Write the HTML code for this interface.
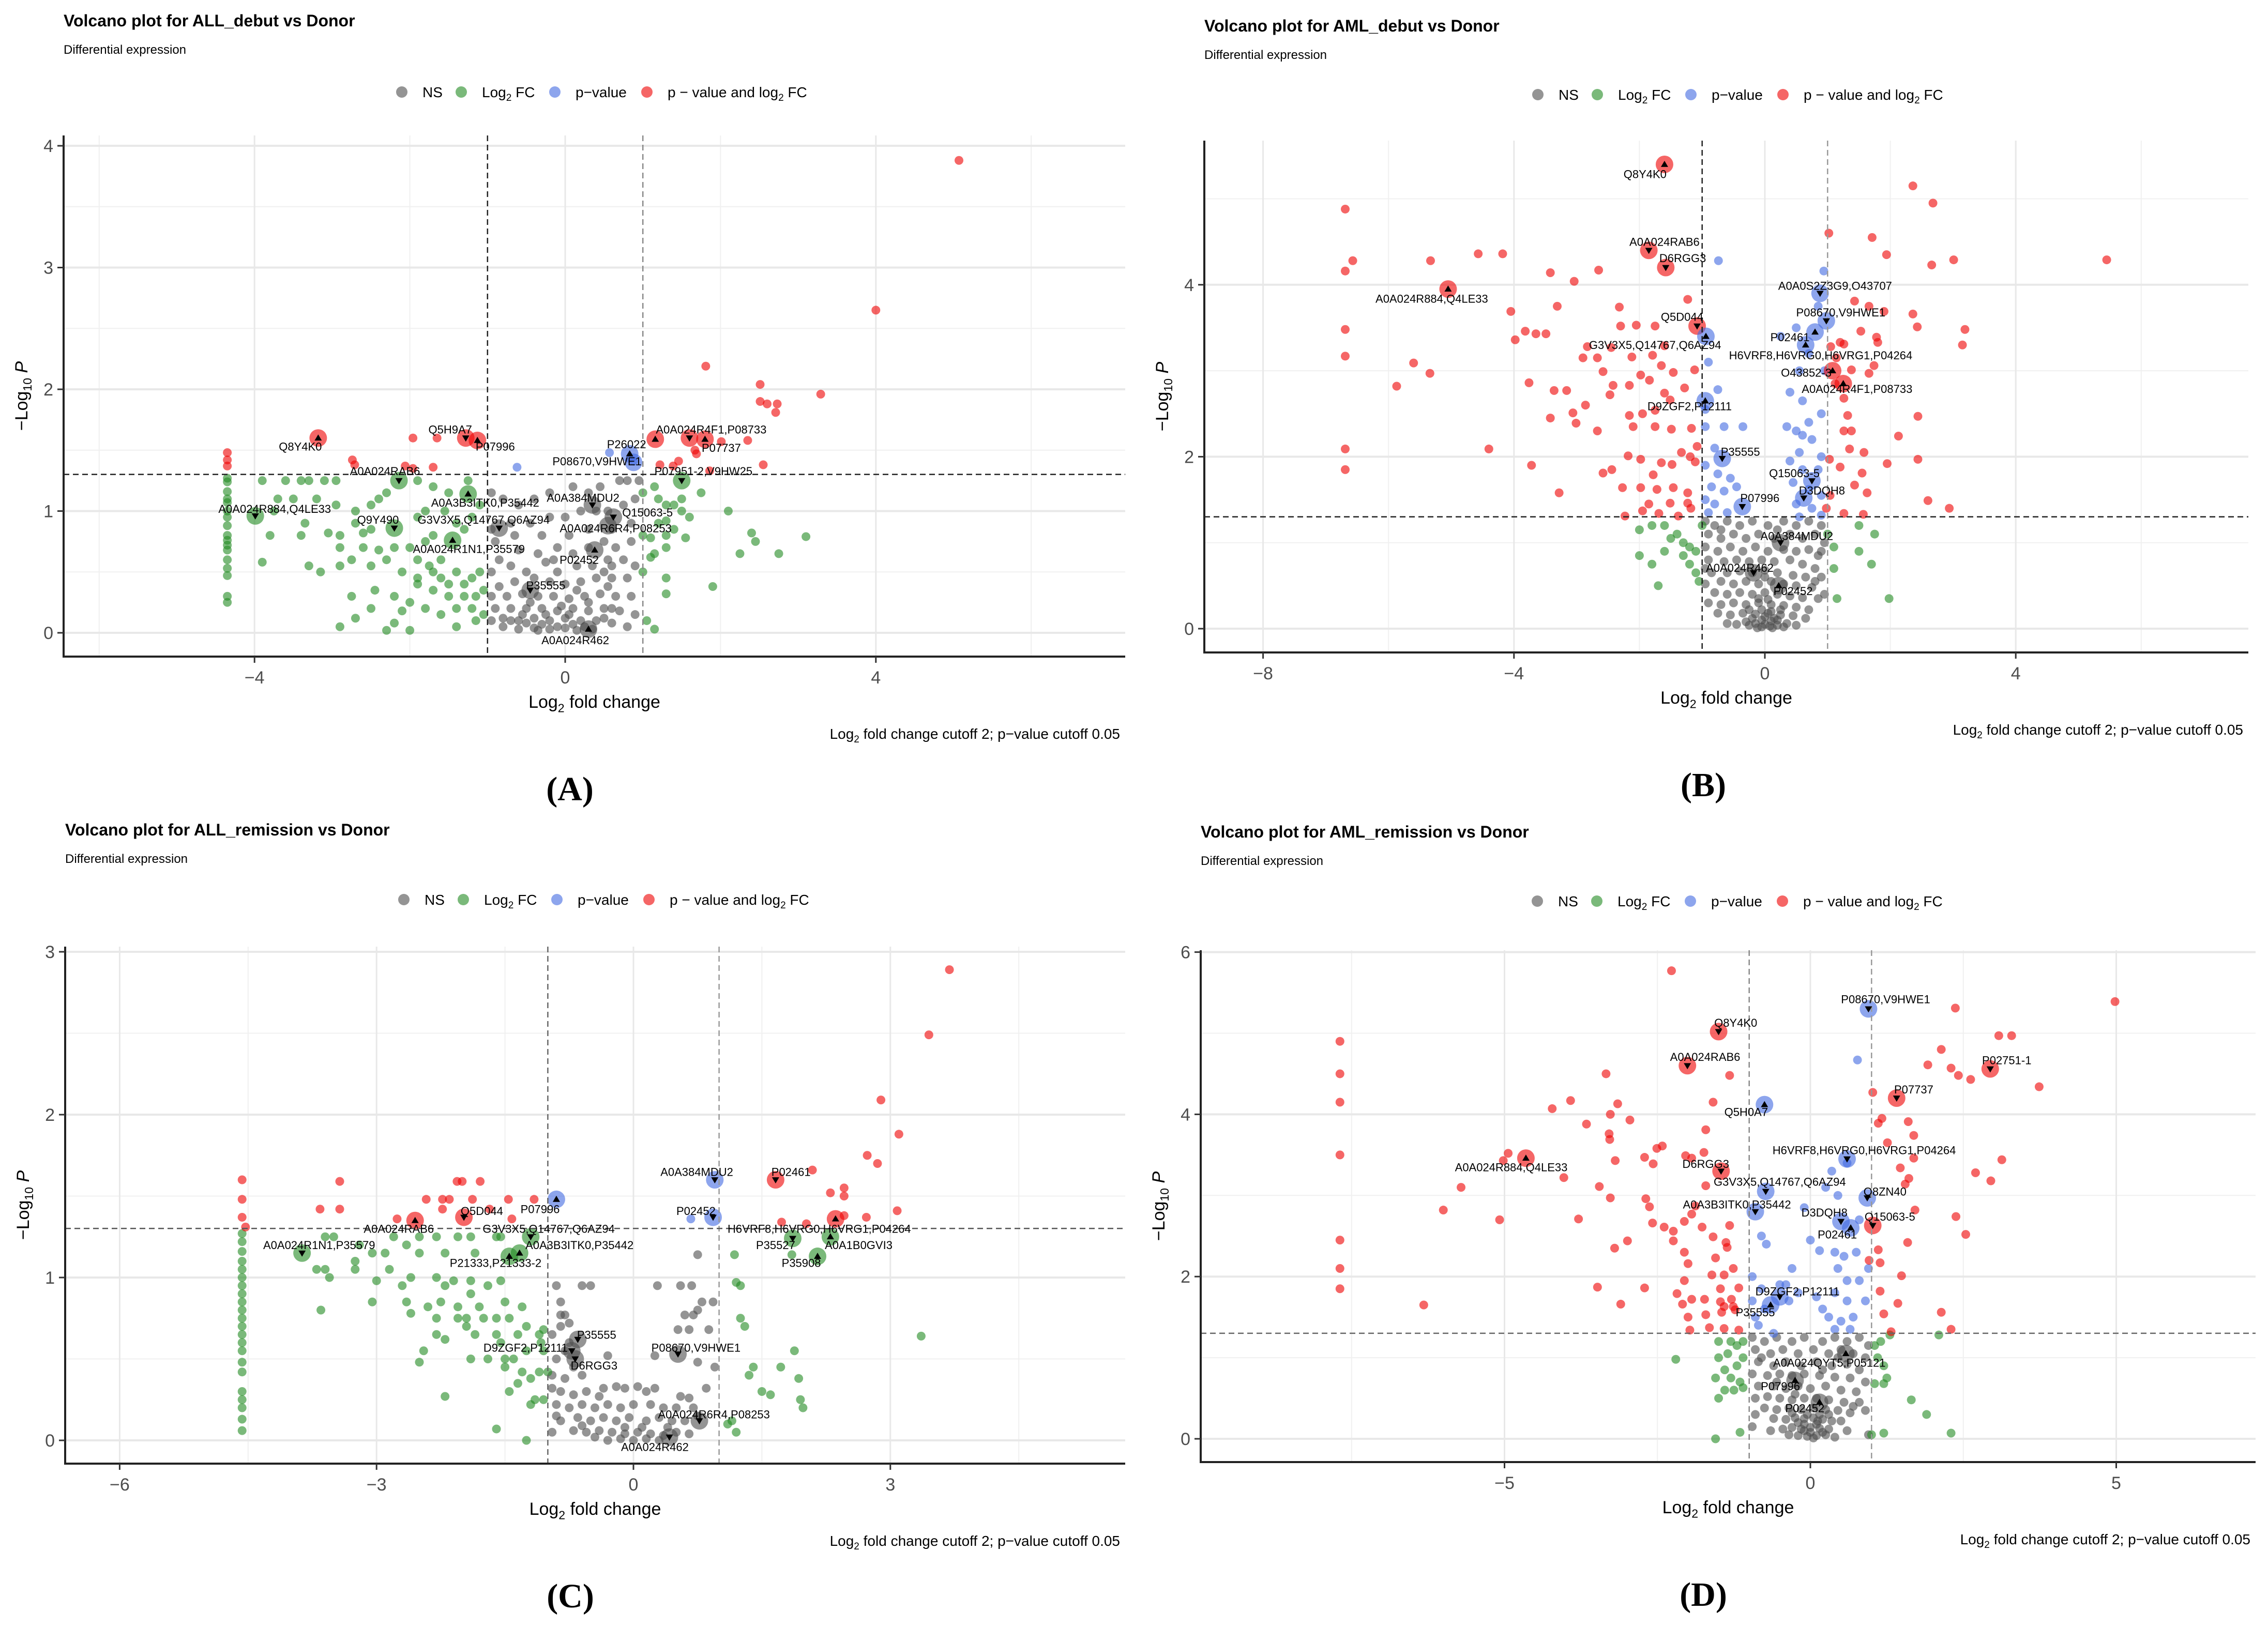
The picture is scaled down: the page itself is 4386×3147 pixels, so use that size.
<!DOCTYPE html>
<html><head><meta charset="utf-8"><style>
html,body{margin:0;padding:0;background:#fff;}
svg{display:block;font-family:"Liberation Sans",Arial,sans-serif;}
</style></head>
<body>
<svg id="fig" xmlns="http://www.w3.org/2000/svg" width="4386" height="3147" viewBox="0 0 4386 3147">
<rect width="4386" height="3147" fill="#fff"/>
</svg>
<script>
// ---------- Panel A: ALL_debut vs Donor ----------
const A_ns=[[-0.95,1.15],[-0.8,1.1],[-0.6,1.05],[-0.4,1.1],[-0.2,1.15],[0.1,1.2],[0.3,1.15],[0.45,1.2],[0.7,1.25],[0.8,1.25],[0.95,1.25],[0.9,1.1],[0.75,1.05],[0.55,1.0],[0.4,1.0],[0.2,1.0],[0.0,0.95],[-0.2,0.95],[-0.45,0.9],[-0.7,0.9],[-0.95,0.85],[-0.9,0.75],[-0.65,0.8],[-0.3,0.8],[0.05,0.8],[0.3,0.85],[0.6,0.85],[0.85,0.9],[0.85,0.75],[0.65,0.7],[0.5,0.75],[0.3,0.7],[0.1,0.65],[-0.1,0.7],[-0.35,0.65],[-0.6,0.68],[-0.85,0.6],[-0.95,0.5],[-0.7,0.55],[-0.5,0.5],[-0.25,0.58],[-0.1,0.5],[0.15,0.55],[0.35,0.55],[0.55,0.6],[0.75,0.6],[0.9,0.55],[0.8,0.45],[0.6,0.45],[0.4,0.45],[0.2,0.42],[0.0,0.4],[-0.2,0.42],[-0.4,0.45],[-0.65,0.42],[-0.85,0.38],[-0.95,0.3],[-0.75,0.3],[-0.55,0.32],[-0.35,0.3],[-0.15,0.3],[0.05,0.28],[0.25,0.3],[0.45,0.32],[0.65,0.3],[0.85,0.3],[0.9,0.15],[0.7,0.18],[0.5,0.2],[0.3,0.18],[0.1,0.2],[-0.1,0.18],[-0.3,0.2],[-0.5,0.2],[-0.7,0.2],[-0.9,0.2],[-0.95,0.1],[-0.8,0.12],[-0.6,0.1],[-0.4,0.12],[-0.2,0.1],[0.0,0.12],[0.2,0.1],[0.4,0.1],[0.6,0.08],[0.8,0.05],[-0.8,0.05],[-0.6,0.03],[-0.4,0.04],[-0.2,0.03],[0.0,0.04],[0.15,0.02],[0.35,0.03],[-0.3,0.07],[-0.5,0.08],[0.1,0.07],[-0.05,0.22],[0.15,0.35],[-0.45,0.25],[0.5,0.5],[0.6,0.55],[0.55,0.38],[0.5,0.12],[-0.15,0.6],[-0.25,0.15],[-0.55,0.15],[-0.7,0.1],[0.25,0.05],[0.6,0.2],[-0.1,0.05],[0.05,0.15],[-0.35,0.02],[0.3,0.25]];
const A_fc=[[-4.35,1.27],[-4.35,1.24],[-4.35,1.16],[-4.35,1.1],[-4.35,1.07],[-4.35,1.0],[-4.35,0.95],[-4.35,0.88],[-4.35,0.8],[-4.35,0.76],[-4.35,0.72],[-4.35,0.68],[-4.35,0.6],[-4.35,0.53],[-4.35,0.47],[-4.35,0.3],[-4.35,0.25],[-3.9,1.25],[-3.6,1.25],[-3.4,1.25],[-3.3,1.25],[-3.1,1.25],[-2.95,1.25],[-2.95,1.05],[-3.2,1.1],[-3.5,1.1],[-3.7,1.1],[-3.75,1.0],[-3.35,0.9],[-3.8,0.8],[-3.4,0.8],[-3.05,0.82],[-2.9,0.8],[-2.7,0.9],[-2.7,1.0],[-2.5,1.05],[-2.4,1.1],[-2.3,1.15],[-2.5,0.85],[-2.6,0.82],[-2.9,0.7],[-2.6,0.7],[-2.4,0.68],[-2.2,0.7],[-2.0,0.7],[-1.8,0.75],[-1.7,0.8],[-1.9,0.95],[-1.8,1.0],[-1.55,1.0],[-1.4,0.9],[-1.3,0.85],[-1.2,0.95],[-1.1,1.05],[-1.5,1.15],[-1.7,1.2],[-1.9,1.25],[-1.25,1.25],[-3.9,0.58],[-3.3,0.55],[-3.15,0.5],[-2.9,0.55],[-2.75,0.6],[-2.5,0.55],[-2.3,0.6],[-2.1,0.5],[-1.9,0.45],[-1.7,0.5],[-1.6,0.45],[-1.5,0.4],[-1.4,0.5],[-1.3,0.4],[-1.2,0.45],[-1.1,0.5],[-1.05,0.35],[-1.15,0.3],[-1.3,0.3],[-1.5,0.3],[-1.7,0.35],[-1.9,0.4],[-2.0,0.25],[-2.2,0.3],[-2.45,0.35],[-2.75,0.3],[-2.1,0.18],[-1.8,0.2],[-1.6,0.15],[-1.4,0.2],[-1.2,0.2],[-1.05,0.15],[-2.7,0.12],[-2.9,0.05],[-2.5,0.2],[-2.2,0.08],[-2.0,0.02],[-2.3,0.02],[-1.4,0.05],[-1.15,0.1],[-1.6,0.6],[-1.9,0.6],[-1.75,0.55],[1.15,1.2],[1.2,1.1],[1.3,1.05],[1.4,1.05],[1.5,1.1],[1.5,1.0],[1.75,1.15],[1.6,0.95],[1.3,0.92],[1.2,0.9],[1.4,0.85],[1.0,0.8],[1.1,0.78],[1.3,0.8],[1.55,0.78],[2.1,1.0],[2.4,0.82],[2.45,0.75],[3.1,0.79],[2.25,0.65],[2.75,0.65],[1.15,0.65],[1.3,0.7],[1.1,0.62],[1.0,0.5],[1.3,0.45],[1.9,0.38],[1.3,0.32],[1.05,0.1],[1.15,0.03],[1.0,1.15]];
const A_pv=[[0.57,1.48],[0.88,1.41],[-0.62,1.36]];
const A_both=[[5.07,3.88],[4.0,2.65],[1.81,2.19],[2.51,2.04],[3.29,1.96],[2.51,1.9],[2.6,1.88],[2.73,1.88],[2.71,1.81],[2.01,1.57],[2.35,1.58],[1.67,1.5],[1.69,1.47],[2.55,1.38],[1.22,1.38],[1.46,1.41],[1.86,1.33],[1.39,1.37],[-1.96,1.6],[-1.65,1.6],[-2.74,1.42],[-2.71,1.38],[-1.7,1.36],[-2.06,1.37],[-1.96,1.35],[-4.35,1.48],[-4.35,1.37],[-4.35,1.42]];
const A_hl=[["Q8Y4K0",-3.18,1.6,"both","u",-3.41,1.53],["Q5H9A7",-1.28,1.6,"both","d",-1.48,1.67],["P07996",-1.13,1.58,"both","u",-0.9,1.53],["A0A024RAB6",-2.14,1.25,"fc","d",-2.32,1.33],["A0A024R4F1,P08733",1.16,1.59,"both","u",1.88,1.67],["P07737",1.6,1.6,"both","d",2.01,1.52],["",1.8,1.59,"both","u",0,0],["P26022",0.83,1.47,"pv","u",0.79,1.55],["P08670,V9HWE1",0.88,1.4,"pv","",0.41,1.41],["P07951-2,V9HW25",1.5,1.25,"fc","d",1.78,1.33],["A0A384MDU2",0.35,1.05,"ns","d",0.23,1.11],["A0A3B3ITK0,P35442",-1.25,1.14,"fc","u",-1.03,1.07],["A0A024R884,Q4LE33",-3.99,0.96,"fc","d",-3.74,1.02],["Q15063-5",0.62,0.95,"ns","d",1.06,0.99],["Q9Y490",-2.2,0.86,"fc","d",-2.41,0.93],["G3V3X5,Q14767,Q6AZ94",-0.85,0.86,"ns","d",-1.05,0.93],["A0A024R6R4,P08253",0.55,0.88,"ns","",0.65,0.86],["A0A024R1N1,P35579",-1.45,0.76,"fc","u",-1.24,0.69],["P02452",0.38,0.68,"ns","u",0.18,0.6],["P35555",-0.45,0.35,"ns","d",-0.25,0.39],["A0A024R462",0.3,0.03,"ns","u",0.13,-0.06]];
const A_xticks=[-4,0,4], A_xminor=[-6,-2,2,6], A_yticks=[0,1,2,3,4], A_yminor=[0.5,1.5,2.5,3.5];

// ---------- Panel B: AML_debut vs Donor ----------
const B_ns=[[-0.95,1.25],[-0.8,1.2],[-0.6,1.25],[-0.4,1.2],[-0.2,1.25],[0.05,1.2],[0.3,1.25],[0.5,1.2],[0.7,1.25],[0.9,1.2],[-0.9,1.1],[-0.7,1.05],[-0.5,1.1],[-0.3,1.05],[-0.1,1.1],[0.15,1.05],[0.4,1.1],[0.6,1.05],[0.8,1.1],[0.95,1.0],[-0.95,0.95],[-0.75,0.9],[-0.55,0.95],[-0.35,0.9],[-0.15,0.95],[0.05,0.9],[0.3,0.92],[0.5,0.9],[0.7,0.92],[0.85,0.85],[-0.9,0.8],[-0.65,0.78],[-0.45,0.8],[-0.25,0.78],[-0.05,0.8],[0.15,0.78],[0.4,0.8],[0.6,0.75],[0.8,0.7],[-0.85,0.65],[-0.6,0.65],[-0.4,0.67],[-0.2,0.65],[0.0,0.68],[0.2,0.65],[0.45,0.62],[0.65,0.6],[0.9,0.6],[-0.95,0.52],[-0.7,0.55],[-0.5,0.52],[-0.3,0.55],[-0.1,0.52],[0.1,0.55],[0.3,0.52],[0.5,0.5],[0.75,0.48],[-0.8,0.42],[-0.6,0.4],[-0.4,0.42],[-0.2,0.4],[0.0,0.42],[0.2,0.4],[0.4,0.38],[0.6,0.36],[0.85,0.35],[-0.9,0.3],[-0.7,0.28],[-0.5,0.3],[-0.3,0.28],[-0.1,0.3],[0.1,0.28],[0.3,0.27],[0.5,0.25],[0.7,0.22],[-0.75,0.18],[-0.55,0.16],[-0.35,0.18],[-0.15,0.17],[0.05,0.18],[0.25,0.16],[0.45,0.15],[0.65,0.12],[-0.6,0.06],[-0.45,0.05],[-0.3,0.08],[-0.15,0.06],[0.0,0.05],[0.1,0.09],[0.2,0.04],[0.35,0.06],[0.5,0.04],[-0.05,0.02],[0.12,0.01],[-0.2,0.12],[0.0,0.14],[0.15,0.12],[-0.05,0.22],[0.1,0.2],[-0.25,0.22],[0.25,0.22],[-0.1,0.35],[0.05,0.34],[0.8,0.55],[0.95,0.4],[-0.95,0.7],[0.9,0.9],[-0.7,1.15],[0.2,1.15],[0.0,0.6],[-0.05,0.1],[0.08,0.03],[-0.12,0.01],[0.2,0.1],[0.3,0.02],[-0.25,0.04]];
const B_fc=[[-2.0,1.15],[-1.8,1.2],[-1.6,1.2],[-1.4,1.1],[-1.3,1.0],[-1.2,0.95],[-1.1,0.9],[-1.2,0.75],[-1.1,0.65],[-1.6,0.9],[-1.8,0.75],[-2.0,0.85],[-1.7,0.5],[-1.3,0.85],[-1.05,0.55],[1.1,0.95],[1.1,0.7],[1.15,0.35],[1.5,0.9],[1.5,1.2],[1.75,1.1],[1.7,0.75],[1.98,0.35],[1.0,1.1],[-1.0,1.2],[-1.5,1.05]];
const B_pv=[[-0.74,4.28],[0.94,4.16],[-0.9,3.1],[-0.75,2.78],[0.55,3.0],[0.6,2.65],[0.9,2.5],[0.7,2.4],[0.5,2.3],[0.35,2.35],[0.6,2.25],[0.75,2.2],[0.55,2.05],[0.9,2.0],[0.4,1.95],[0.6,1.85],[0.85,1.85],[0.45,1.7],[0.7,1.62],[0.9,1.55],[0.5,1.45],[0.75,1.4],[0.9,1.32],[0.55,1.3],[-0.95,2.55],[-0.95,2.35],[-0.65,2.35],[-0.35,2.35],[-0.8,2.1],[-0.95,1.9],[-0.75,1.8],[-0.55,1.75],[-0.85,1.65],[-0.65,1.6],[-0.45,1.65],[-0.95,1.5],[-0.8,1.45],[-0.6,1.35],[-0.9,1.35],[0.25,3.4],[0.5,3.5],[0.85,3.75],[0.7,3.2],[0.95,3.0],[0.4,2.75]];
const B_both=[[-6.69,4.88],[-6.69,4.16],[-6.57,4.28],[-6.69,3.48],[-6.69,3.17],[-6.69,2.09],[-6.69,1.85],[-5.33,4.28],[-4.57,4.36],[-4.18,4.36],[-3.42,4.14],[-3.04,4.04],[-2.65,4.17],[-2.32,3.74],[-3.31,3.75],[-4.05,3.69],[-3.98,3.36],[-3.82,3.46],[-3.65,3.43],[-3.49,3.43],[-5.6,3.09],[-5.34,2.97],[-5.87,2.82],[-3.76,2.86],[-3.36,2.77],[-3.16,2.77],[-3.42,2.45],[-3.06,2.51],[-3.01,2.39],[-2.86,2.6],[-4.4,2.09],[-3.72,1.9],[-3.28,1.58],[-2.9,3.15],[-2.83,3.28],[-2.67,3.15],[-2.45,3.27],[-2.3,3.52],[-2.05,3.53],[-1.75,3.52],[-2.12,3.16],[-1.79,3.18],[-2.58,2.99],[-2.42,2.83],[-2.16,2.83],[-1.98,2.95],[-1.84,2.89],[-1.65,3.06],[-1.46,2.98],[-1.6,2.74],[-1.28,2.8],[-1.12,3.01],[-1.23,3.83],[-1.6,3.29],[-2.47,2.72],[-2.67,2.3],[-2.16,2.48],[-2.1,2.35],[-1.95,2.5],[-1.75,2.35],[-1.49,2.32],[-1.17,2.33],[-1.75,2.54],[-1.51,2.66],[-2.18,2.01],[-1.98,1.97],[-1.78,1.79],[-1.65,1.93],[-1.48,1.91],[-1.33,2.05],[-1.19,2.0],[-1.08,2.12],[-2.58,1.81],[-2.44,1.85],[-2.27,1.64],[-1.98,1.64],[-1.72,1.62],[-1.46,1.64],[-1.23,1.58],[-1.85,1.45],[-1.51,1.46],[-1.23,1.46],[-2.23,1.31],[-1.95,1.37],[-1.69,1.34],[-1.38,1.31],[-1.18,1.4],[-1.11,1.94],[1.02,4.6],[1.71,4.55],[1.94,4.35],[2.36,5.15],[2.68,4.95],[3.01,4.29],[2.66,4.23],[5.45,4.29],[1.43,3.81],[1.66,3.75],[1.9,3.69],[2.36,3.66],[2.43,3.51],[3.19,3.48],[3.15,3.3],[1.53,3.46],[1.78,3.39],[1.8,3.33],[1.05,3.28],[1.26,3.31],[1.14,3.15],[1.38,3.01],[1.66,2.97],[1.74,3.06],[1.26,2.68],[1.32,2.48],[1.26,2.3],[1.38,2.3],[2.44,2.47],[2.13,2.24],[2.44,1.97],[1.95,1.92],[1.58,2.05],[1.35,2.09],[1.03,1.97],[1.2,1.88],[1.55,1.81],[1.43,1.67],[1.63,1.58],[1.26,1.34],[1.57,1.33],[2.6,1.49],[2.94,1.4],[1.04,1.55],[0.98,1.4],[1.12,2.85],[1.2,3.33]];
const B_hl=[["Q8Y4K0",-1.6,5.4,"both","u",-1.91,5.29],["A0A024RAB6",-1.85,4.4,"both","d",-1.6,4.5],["D6RGG3",-1.58,4.2,"both","d",-1.31,4.31],["A0A024R884,Q4LE33",-5.05,3.95,"both","u",-5.31,3.84],["Q5D044",-1.08,3.52,"both","d",-1.32,3.63],["G3V3X5,Q14767,Q6AZ94",-0.94,3.4,"pv","u",-1.75,3.3],["A0A0S2Z3G9,O43707",0.88,3.9,"pv","d",1.12,3.99],["P08670,V9HWE1",0.98,3.58,"pv","d",1.21,3.68],["P02461",0.8,3.45,"pv","u",0.4,3.39],["H6VRF8,H6VRG0,H6VRG1,P04264",0.65,3.3,"pv","u",0.89,3.18],["O43852-3",1.08,3.0,"both","u",0.66,2.98],["A0A024R4F1,P08733",1.25,2.85,"both","u",1.47,2.79],["D9ZGF2,P12111",-0.95,2.65,"pv","u",-1.2,2.59],["P35555",-0.68,1.98,"pv","d",-0.39,2.06],["Q15063-5",0.75,1.72,"pv","d",0.47,1.81],["D3DQH8",0.62,1.52,"pv","d",0.91,1.61],["P07996",-0.36,1.42,"pv","d",-0.08,1.52],["A0A384MDU2",0.25,1.0,"ns","d",0.51,1.08],["A0A024R462",-0.18,0.65,"ns","d",-0.4,0.71],["P02452",0.22,0.5,"ns","u",0.45,0.44]];
const B_xticks=[-8,-4,0,4], B_xminor=[-6,-2,2,6], B_yticks=[0,2,4], B_yminor=[1,3,5];

// ---------- Panel C: ALL_remission vs Donor ----------
const C_ns=[[-0.9,0.95],[-0.6,0.95],[-0.5,0.95],[0.28,0.95],[0.55,0.95],[0.68,0.95],[0.75,1.14],[0.93,0.85],[0.8,0.85],[-0.85,0.85],[-0.85,0.77],[-0.8,0.77],[0.6,0.77],[0.7,0.77],[0.75,0.8],[0.52,0.68],[0.65,0.68],[0.88,0.68],[-0.95,0.65],[-0.75,0.6],[-0.9,0.5],[-0.7,0.45],[-0.3,0.52],[0.25,0.52],[0.75,0.48],[0.95,0.45],[0.25,0.32],[0.85,0.32],[-0.95,0.4],[-0.8,0.38],[-0.6,0.4],[-0.95,0.32],[-0.85,0.3],[-0.7,0.28],[-0.55,0.3],[-0.35,0.32],[-0.2,0.33],[-0.1,0.32],[0.05,0.33],[0.15,0.3],[-0.9,0.22],[-0.75,0.2],[-0.6,0.22],[-0.45,0.2],[-0.3,0.22],[-0.15,0.2],[0.0,0.22],[0.2,0.22],[0.35,0.2],[0.5,0.2],[0.7,0.2],[0.75,0.15],[0.6,0.12],[0.45,0.12],[0.3,0.14],[0.15,0.12],[-0.05,0.14],[-0.2,0.12],[-0.35,0.14],[-0.5,0.12],[-0.65,0.14],[-0.85,0.12],[-0.95,0.05],[-0.7,0.06],[-0.55,0.05],[-0.4,0.06],[-0.25,0.05],[-0.1,0.04],[0.05,0.05],[0.2,0.04],[0.35,0.03],[0.5,0.05],[0.65,0.04],[-0.3,0.0],[-0.15,0.01],[0.0,0.0],[0.15,0.01],[0.3,0.0],[-0.45,0.02],[-0.6,0.09],[-0.9,0.15],[-0.1,0.08],[0.1,0.08],[0.4,0.08],[0.55,0.27],[0.65,0.26],[-0.4,0.27],[-0.8,0.55],[-0.85,0.7],[-0.75,0.72]];
const C_fc=[[-4.57,1.27],[-4.57,1.22],[-4.57,1.16],[-4.57,1.1],[-4.57,1.05],[-4.57,1.0],[-4.57,0.95],[-4.57,0.9],[-4.57,0.85],[-4.57,0.8],[-4.57,0.75],[-4.57,0.7],[-4.57,0.65],[-4.57,0.6],[-4.57,0.55],[-4.57,0.48],[-4.57,0.42],[-4.57,0.3],[-4.57,0.25],[-4.57,0.2],[-4.57,0.13],[-4.57,0.06],[-3.5,1.25],[-3.6,1.25],[-3.2,1.2],[-2.8,1.25],[-2.65,1.2],[-2.5,1.25],[-2.3,1.25],[-2.05,1.25],[-1.9,1.25],[-1.6,1.25],[-1.55,1.25],[-1.85,1.15],[-2.2,1.15],[-2.5,1.15],[-2.9,1.15],[-3.05,1.15],[-3.25,1.1],[-3.6,1.05],[-3.7,1.05],[-3.55,1.0],[-3.25,1.05],[-2.85,1.05],[-3.0,0.98],[-3.05,0.85],[-2.6,1.0],[-2.3,1.0],[-2.1,0.98],[-1.9,0.98],[-1.7,0.95],[-1.55,0.98],[-1.9,0.9],[-2.2,0.95],[-2.7,0.95],[-2.65,0.85],[-2.4,0.82],[-2.25,0.85],[-2.05,0.82],[-1.8,0.82],[-1.5,0.85],[-1.3,0.82],[-3.65,0.8],[-2.6,0.78],[-2.3,0.75],[-2.05,0.75],[-1.95,0.75],[-1.75,0.75],[-1.6,0.75],[-1.45,0.75],[-1.25,0.7],[-2.3,0.65],[-2.2,0.62],[-1.95,0.7],[-1.85,0.65],[-1.6,0.65],[-1.35,0.65],[-1.1,0.65],[-1.05,0.68],[-2.45,0.55],[-2.5,0.48],[-1.9,0.5],[-1.7,0.5],[-1.5,0.5],[-1.4,0.5],[-1.25,0.55],[-1.05,0.55],[-1.5,0.45],[-1.3,0.42],[-1.1,0.42],[-1.0,0.42],[-1.35,0.35],[-1.2,0.38],[-1.45,0.3],[-1.15,0.25],[-1.05,0.25],[-1.2,0.22],[-2.2,0.27],[-1.6,0.07],[-1.25,0.0],[-1.08,0.6],[-1.55,0.6],[1.18,1.14],[1.2,0.97],[1.25,0.95],[1.25,0.75],[1.3,0.7],[1.85,1.14],[1.4,0.45],[1.35,0.4],[1.5,0.3],[1.6,0.28],[1.72,0.45],[1.88,0.55],[1.93,0.38],[1.95,0.25],[1.98,0.2],[3.36,0.64],[1.1,0.1],[1.2,0.05],[1.15,0.12]];
const C_pv=[[0.67,1.36]];
const C_both=[[-4.57,1.6],[-4.57,1.48],[-4.57,1.37],[-4.53,1.31],[-3.66,1.42],[-3.43,1.59],[-3.43,1.42],[-2.76,1.36],[-2.42,1.48],[-2.23,1.48],[-2.15,1.48],[-2.23,1.42],[-2.06,1.59],[-2.0,1.59],[-1.79,1.59],[-1.88,1.48],[-1.68,1.42],[-1.46,1.48],[-1.42,1.36],[-1.16,1.48],[3.69,2.89],[3.45,2.49],[2.89,2.09],[3.1,1.88],[2.73,1.75],[2.85,1.7],[2.09,1.66],[2.46,1.55],[2.46,1.5],[2.3,1.52],[3.08,1.41],[2.72,1.37],[1.73,1.34],[2.02,1.33],[2.46,1.38]];
const C_hl=[["A0A384MDU2",0.95,1.6,"pv","d",0.74,1.65],["P02461",1.66,1.6,"both","d",1.84,1.65],["P07996",-0.9,1.48,"pv","u",-1.09,1.42],["Q5D044",-1.98,1.37,"both","d",-1.77,1.41],["P02452",0.93,1.37,"pv","d",0.73,1.41],["A0A024RAB6",-2.55,1.35,"both","u",-2.74,1.3],["G3V3X5,Q14767,Q6AZ94",-1.2,1.25,"fc","d",-0.99,1.3],["H6VRF8,H6VRG0,H6VRG1,P04264",2.36,1.36,"both","u",2.17,1.3],["A0A024R1N1,P35579",-3.87,1.15,"fc","d",-3.67,1.2],["A0A3B3ITK0,P35442",-1.33,1.15,"fc","u",-0.63,1.2],["P35527",1.86,1.24,"fc","d",1.66,1.2],["A0A1B0GVI3",2.3,1.25,"fc","u",2.63,1.2],["P21333,P21333-2",-1.45,1.13,"fc","u",-1.61,1.09],["P35908",2.15,1.13,"fc","u",1.96,1.09],["P35555",-0.65,0.62,"ns","d",-0.43,0.65],["D9ZGF2,P12111",-0.72,0.55,"ns","d",-1.26,0.57],["P08670,V9HWE1",0.52,0.53,"ns","d",0.73,0.57],["D6RGG3",-0.68,0.5,"ns","d",-0.46,0.46],["A0A024R6R4,P08253",0.77,0.12,"ns","d",0.94,0.16],["A0A024R462",0.42,0.02,"ns","d",0.25,-0.04]];
const C_xticks=[-6,-3,0,3], C_xminor=[-4.5,-1.5,1.5,4.5], C_yticks=[0,1,2,3], C_yminor=[0.5,1.5,2.5];

// ---------- Panel D: AML_remission vs Donor ----------
const D_ns=[[-0.95,1.25],[-0.75,1.2],[-0.55,1.25],[-0.3,1.2],[-0.1,1.25],[0.2,1.2],[0.4,1.25],[0.6,1.2],[0.8,1.25],[0.95,1.15],[-0.9,1.1],[-0.65,1.05],[-0.45,1.1],[-0.2,1.05],[0.05,1.1],[0.3,1.05],[0.5,1.1],[0.7,1.05],[0.9,1.0],[-0.85,0.95],[-0.6,0.9],[-0.4,0.95],[-0.15,0.9],[0.1,0.95],[0.35,0.9],[0.6,0.92],[0.8,0.85],[-0.95,0.8],[-0.7,0.78],[-0.5,0.8],[-0.3,0.78],[-0.1,0.8],[0.15,0.78],[0.4,0.76],[0.65,0.75],[0.9,0.7],[-0.85,0.65],[-0.6,0.65],[-0.4,0.62],[-0.2,0.65],[0.0,0.62],[0.25,0.65],[0.5,0.6],[0.75,0.58],[-0.9,0.5],[-0.7,0.52],[-0.5,0.5],[-0.3,0.48],[-0.1,0.5],[0.1,0.5],[0.3,0.48],[0.55,0.45],[0.8,0.45],[-0.75,0.38],[-0.55,0.36],[-0.35,0.38],[-0.15,0.36],[0.05,0.38],[0.25,0.36],[0.45,0.35],[0.65,0.32],[-0.6,0.25],[-0.4,0.24],[-0.25,0.26],[-0.1,0.25],[0.05,0.26],[0.2,0.24],[0.35,0.22],[0.5,0.22],[-0.45,0.12],[-0.3,0.14],[-0.15,0.12],[0.0,0.14],[0.15,0.13],[0.3,0.12],[-0.2,0.04],[-0.05,0.03],[0.1,0.04],[0.25,0.05],[-0.35,0.05],[0.0,0.08],[-0.1,0.18],[0.1,0.18],[-0.05,0.3],[0.15,0.3],[0.95,0.05],[-0.95,0.15],[0.9,0.35],[-0.9,0.3],[0.6,0.1],[-0.65,0.1],[0.4,0.02],[-0.25,0.55],[0.2,0.85],[-0.8,1.0],[0.7,0.4],[-0.55,0.7],[0.45,1.0],[-0.1,0.1],[0.05,0.01],[0.2,0.08],[-0.2,0.2],[0.3,0.3],[-0.3,0.32],[0.12,0.22]];
const D_fc=[[-1.5,1.2],[-1.3,1.2],[-1.2,1.15],[-1.1,1.2],[-1.35,1.05],[-1.5,1.0],[-1.1,1.0],[-1.2,0.9],[-1.4,0.85],[-1.55,0.75],[-1.3,0.75],[-1.15,0.7],[-1.1,0.63],[-1.25,0.6],[-1.4,0.6],[-1.5,0.5],[-2.2,0.98],[-1.55,0.0],[-1.15,0.08],[1.05,1.15],[1.15,1.2],[1.1,1.0],[1.25,0.75],[1.2,0.68],[1.05,0.68],[1.65,0.48],[1.9,0.3],[2.3,0.07],[1.2,0.07],[1.3,1.28],[2.1,1.28],[1.0,0.05],[1.2,0.9]];
const D_pv=[[0.77,4.67],[0.35,3.3],[0.25,3.1],[0.45,3.0],[0.6,3.4],[0.8,2.7],[-0.1,2.85],[-0.8,2.5],[-0.72,2.4],[0.15,2.32],[0.4,2.3],[0.55,2.25],[0.75,2.3],[0.95,2.1],[0.45,2.1],[0.6,1.95],[0.8,1.95],[0.4,1.8],[0.1,1.75],[0.6,1.7],[0.9,1.7],[-0.95,2.0],[-0.8,1.85],[-0.5,1.9],[-0.3,2.1],[-0.4,1.9],[-0.9,1.5],[-0.75,1.6],[-0.85,1.4],[-0.6,1.3],[-0.35,1.7],[0.3,1.5],[0.5,1.45],[0.7,1.5],[0.4,1.35],[0.65,1.35],[-0.95,1.7],[0.2,1.6],[-0.2,1.8],[0.0,2.45]];
const D_both=[[-7.69,4.9],[-7.69,4.5],[-7.69,4.15],[-7.69,3.5],[-7.69,2.45],[-7.69,2.1],[-7.69,1.85],[-6.32,1.65],[-6.0,2.82],[-5.71,3.1],[-5.08,2.7],[-5.02,3.43],[-4.94,3.52],[-4.22,4.07],[-3.92,4.17],[-4.03,3.22],[-3.79,2.71],[-3.66,3.88],[-3.34,4.5],[-3.29,3.76],[-3.28,3.69],[-3.27,4.0],[-3.15,4.13],[-2.95,3.93],[-3.45,3.11],[-3.27,2.97],[-3.19,3.43],[-2.71,3.47],[-2.57,3.39],[-2.51,3.58],[-2.42,3.61],[-2.69,2.96],[-2.63,2.86],[-2.58,2.66],[-2.39,2.61],[-2.24,2.56],[-2.06,2.68],[-2.24,2.44],[-2.99,2.44],[-3.2,2.35],[-3.48,1.87],[-3.1,1.66],[-2.71,1.86],[-2.27,5.77],[-2.04,3.49],[-1.94,3.46],[-1.74,3.53],[-1.71,3.81],[-1.59,4.15],[-1.32,4.48],[-1.71,3.12],[-1.88,2.87],[-1.94,2.77],[-2.06,2.3],[-2.0,2.16],[-1.77,2.61],[-1.59,2.49],[-1.32,2.63],[-1.38,2.42],[-1.36,2.36],[-1.55,2.23],[-1.61,2.02],[-1.41,2.02],[-1.26,2.1],[-2.06,1.95],[-2.18,1.79],[-1.94,1.72],[-1.73,1.72],[-1.47,1.69],[-1.29,1.72],[-1.17,1.86],[-2.09,1.66],[-2.0,1.5],[-1.71,1.53],[-1.45,1.56],[-1.23,1.59],[-1.97,1.34],[-1.65,1.37],[-1.41,1.36],[-1.17,1.34],[-1.47,1.85],[-1.26,1.63],[-1.41,1.63],[4.98,5.39],[2.37,5.31],[3.08,4.97],[3.29,4.97],[2.14,4.8],[1.92,4.61],[2.3,4.57],[2.42,4.48],[2.62,4.43],[3.74,4.34],[1.02,4.27],[1.17,3.95],[1.11,3.89],[1.6,3.91],[1.69,3.74],[1.26,3.65],[1.69,3.46],[1.47,3.34],[1.61,3.21],[1.55,3.14],[2.7,3.28],[2.95,3.18],[3.13,3.44],[2.38,2.74],[2.54,2.52],[1.71,2.82],[1.59,2.42],[1.11,2.33],[0.96,2.2],[1.14,2.17],[1.49,2.01],[1.14,1.82],[1.43,1.67],[1.2,1.54],[2.14,1.56],[2.3,1.35],[1.32,1.32]];
const D_hl=[["P08670,V9HWE1",0.95,5.3,"pv","d",1.23,5.42],["Q8Y4K0",-1.5,5.02,"both","d",-1.22,5.13],["A0A024RAB6",-2.01,4.6,"both","d",-1.72,4.71],["P02751-1",2.94,4.56,"both","d",3.21,4.67],["P07737",1.41,4.2,"both","d",1.69,4.31],["Q5H0A7",-0.75,4.12,"pv","u",-1.05,4.03],["A0A024R884,Q4LE33",-4.65,3.46,"both","u",-4.89,3.35],["H6VRF8,H6VRG0,H6VRG1,P04264",0.6,3.45,"pv","d",0.88,3.56],["D6RGG3",-1.46,3.3,"both","d",-1.71,3.39],["G3V3X5,Q14767,Q6AZ94",-0.73,3.05,"pv","d",-0.5,3.17],["Q8ZN40",0.93,2.97,"pv","d",1.22,3.05],["A0A3B3ITK0,P35442",-0.9,2.8,"pv","d",-1.2,2.89],["D3DQH8",0.5,2.68,"pv","d",0.23,2.79],["Q15063-5",1.02,2.63,"both","d",1.3,2.74],["P02461",0.66,2.6,"pv","u",0.44,2.52],["D9ZGF2,P12111",-0.5,1.75,"pv","d",-0.21,1.82],["P35555",-0.65,1.65,"pv","u",-0.9,1.56],["A0A024QYT5,P05121",0.58,1.05,"ns","u",0.31,0.94],["P07996",-0.25,0.72,"ns","u",-0.49,0.65],["P02452",0.15,0.45,"ns","u",-0.09,0.38]];
const D_xticks=[-5,0,5], D_xminor=[-7.5,-2.5,2.5,7.5], D_yticks=[0,2,4,6], D_yminor=[1,3,5];

// ---------- rendering ----------
const NS='http://www.w3.org/2000/svg';
const svg=document.getElementById('fig');
const COL={ns:'#4d4d4d',fc:'#228B22',pv:'#4169E1',both:'#EE0000'};
const OP=0.6;
function mk(tag,parent,attrs){const e=document.createElementNS(NS,tag);for(const k in attrs)e.setAttribute(k,attrs[k]);parent.appendChild(e);return e;}
function subText(parent,x,y,size,parts,anchor,fill){
  const t=mk('text',parent,{x:x,y:y,'font-size':size,'text-anchor':anchor||'start',fill:fill||'#000'});
  parts.forEach(p=>{const s=mk('tspan',t,{});if(p[1]==='sub'){s.setAttribute('dy',size*0.25);s.setAttribute('font-size',size*0.68);}else if(p[1]==='up'){s.setAttribute('dy',-size*0.25);}s.textContent=p[0];});
  return t;
}
function panel(cfg){
  const g=mk('g',svg,{});
  
  
  const X=v=>cfg.x0+cfg.xs*v, Y=v=>cfg.y0-cfg.ys*v;
  const L=cfg.L,R=cfg.R,T=cfg.T,B=cfg.B;
  const ti=mk('text',g,{x:cfg.tx,y:cfg.ty,'font-size':32,'font-weight':'bold',fill:'#000'});
  ti.textContent=cfg.title;
  
  
  const st=mk('text',g,{x:cfg.tx,y:cfg.ty+53,'font-size':24,fill:'#000'});
  st.textContent='Differential expression';
  
  
  const lg=mk('g',g,{});
  
  
  const lx=cfg.lx, ly=cfg.ly;
  const ent=[['ns',0,[['NS']]],['fc',115,[['Log'],['2','sub'],[' FC','up']]],['pv',296,[['p\u2212value']]],['both',474,[['p \u2212 value and log'],['2','sub'],[' FC','up']]]];
  ent.forEach(e=>{
    const c=mk('circle',lg,{cx:lx+e[1],cy:ly,r:11,fill:COL[e[0]],'fill-opacity':OP});
    
    
    const t=subText(lg,lx+e[1]+40,ly+10,28,e[2],'start','#000');
    
    
  });
  cfg.yminor.forEach(v=>{const l=mk('line',g,{x1:L,x2:R,y1:Y(v),y2:Y(v),stroke:'#f0f0f0','stroke-width':2});});
  cfg.xminor.forEach(v=>{if(X(v)<L||X(v)>R)return;const l=mk('line',g,{x1:X(v),x2:X(v),y1:T,y2:B,stroke:'#f0f0f0','stroke-width':2});});
  cfg.yticks.forEach(v=>{const l=mk('line',g,{x1:L,x2:R,y1:Y(v),y2:Y(v),stroke:'#e8e8e8','stroke-width':4});});
  cfg.xticks.forEach(v=>{const l=mk('line',g,{x1:X(v),x2:X(v),y1:T,y2:B,stroke:'#e8e8e8','stroke-width':3});});
  const pts=mk('g',g,{});
  
  
  [['ns',cfg.ns],['fc',cfg.fc],['pv',cfg.pv],['both',cfg.both]].forEach(s=>{
    s[1].forEach(p=>{
      const c=mk('circle',pts,{cx:X(p[0]),cy:Y(p[1]),r:8.5,fill:COL[s[0]],'fill-opacity':OP});
      
      
    });
  });
  cfg.hl.forEach(h=>{
    const c=mk('circle',pts,{cx:X(h[1]),cy:Y(h[2]),r:17,fill:COL[h[3]],'fill-opacity':OP});
    
    
  });
  [-1,1].forEach(v=>{const l=mk('line',g,{x1:X(v),x2:X(v),y1:T,y2:B,stroke:cfg.vcol[v<0?0:1],'stroke-width':2.5,'stroke-dasharray':'11 7'});});
  const hc=mk('line',g,{x1:L,x2:R,y1:Y(1.30103),y2:Y(1.30103),stroke:cfg.hcol,'stroke-width':2.5,'stroke-dasharray':'11 7'});
  
  
  cfg.hl.forEach(h=>{
    const cx=X(h[1]),cy=Y(h[2]);
    if(h[4]){
      const s=7;
      const d=h[4]==='u'?`M${cx},${cy-s} L${cx-s},${cy+s*0.7} L${cx+s},${cy+s*0.7}Z`:`M${cx},${cy+s} L${cx-s},${cy-s*0.7} L${cx+s},${cy-s*0.7}Z`;
      const tr=mk('path',g,{d:d,fill:'#000'});
      
      
    }
    if(h[0]){
      const t=mk('text',g,{x:X(h[5]),y:Y(h[6])+8,'font-size':22,'text-anchor':'middle',fill:'#000'});
      t.textContent=h[0];
      
      
    }
  });
  const ax=mk('line',g,{x1:L,x2:L,y1:T,y2:B,stroke:'#222','stroke-width':4});
  
  
  const bx=mk('line',g,{x1:L-2,x2:R,y1:B,y2:B,stroke:'#222','stroke-width':4});
  
  
  cfg.yticks.forEach(v=>{
    const tk=mk('line',g,{x1:L-12,x2:L,y1:Y(v),y2:Y(v),stroke:'#333','stroke-width':3});
    
    
    const t=mk('text',g,{x:L-20,y:Y(v)+12,'font-size':34,'text-anchor':'end',fill:'#4d4d4d'});
    t.textContent=String(v);
    
    
  });
  cfg.xticks.forEach(v=>{
    const tk=mk('line',g,{x1:X(v),x2:X(v),y1:B,y2:B+12,stroke:'#333','stroke-width':3});
    
    
    const t=mk('text',g,{x:X(v),y:B+52,'font-size':34,'text-anchor':'middle',fill:'#4d4d4d'});
    t.textContent=(v<0?'\u2212':'')+Math.abs(v);
    
    
  });
  const xt=subText(g,(L+R)/2,B+99,34,[['Log'],['2','sub'],[' fold change','up']],'middle','#000');
  
  
  const yg=mk('g',g,{transform:`translate(${L-70},${(T+B)/2}) rotate(-90)`});
  const yt=mk('text',yg,{x:0,y:0,'font-size':34,'text-anchor':'middle',fill:'#000'});
  [['\u2212Log',null],['10','sub'],[' P','up']].forEach(p=>{const s=mk('tspan',yt,{});if(p[1]==='sub'){s.setAttribute('dy',8);s.setAttribute('font-size',23);}if(p[1]==='up'){s.setAttribute('dy',-8);s.setAttribute('font-style','italic');}s.textContent=p[0];});
  
  
  const cap=subText(g,R-10,B+159,28,[['Log'],['2','sub'],[' fold change cutoff 2; p\u2212value cutoff 0.05','up']],'end','#000');
  
  
  const pl=mk('text',g,{x:cfg.px,y:B+278,'font-size':66,'font-weight':'bold','font-family':'"Liberation Serif",serif','text-anchor':'middle',fill:'#000'});
  pl.textContent='('+cfg.id+')';
  
  
}
panel({id:'A',title:'Volcano plot for ALL_debut vs Donor',tx:123,ty:51,lx:777,ly:178,x0:1093,xs:150.2,y0:1224,ys:235.5,L:123,R:2176,T:262,B:1270,px:1102,
  ns:A_ns,fc:A_fc,pv:A_pv,both:A_both,hl:A_hl,xticks:A_xticks,xminor:A_xminor,yticks:A_yticks,yminor:A_yminor,vcol:['#222','#888'],hcol:'#222'});
panel({id:'B',title:'Volcano plot for AML_debut vs Donor',tx:2329,ty:61,lx:2974,ly:183,x0:3413,xs:121.3,y0:1216,ys:166.3,L:2329,R:4348,T:272,B:1262,px:3294,
  ns:B_ns,fc:B_fc,pv:B_pv,both:B_both,hl:B_hl,xticks:B_xticks,xminor:B_xminor,yticks:B_yticks,yminor:B_yminor,vcol:['#222','#999'],hcol:'#222'});
panel({id:'C',title:'Volcano plot for ALL_remission vs Donor',tx:126,ty:1616,lx:781,ly:1740,x0:1225,xs:165.6,y0:2786,ys:315,L:126,R:2176,T:1831,B:2831,px:1103,
  ns:C_ns,fc:C_fc,pv:C_pv,both:C_both,hl:C_hl,xticks:C_xticks,xminor:C_xminor,yticks:C_yticks,yminor:C_yminor,vcol:['#666','#999'],hcol:'#555'});
panel({id:'D',title:'Volcano plot for AML_remission vs Donor',tx:2322,ty:1620,lx:2973,ly:1743,x0:3501,xs:118.3,y0:2783,ys:156.9,L:2322,R:4362,T:1838,B:2828,px:3294,
  ns:D_ns,fc:D_fc,pv:D_pv,both:D_both,hl:D_hl,xticks:D_xticks,xminor:D_xminor,yticks:D_yticks,yminor:D_yminor,vcol:['#888','#999'],hcol:'#666'});
</script>
</body></html>
